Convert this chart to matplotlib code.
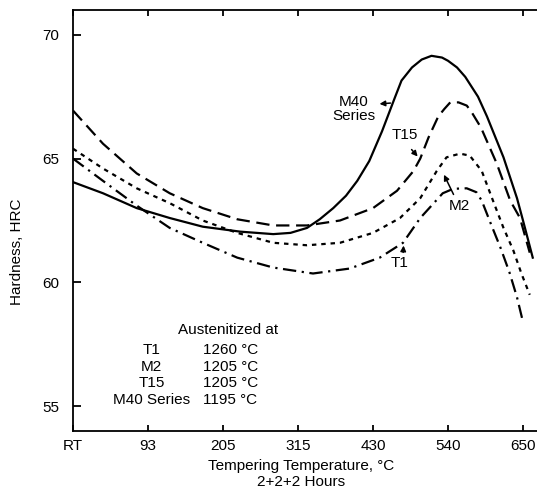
import numpy as np
import matplotlib.pyplot as plt

plt.rcParams['font.family'] = ['Liberation Sans', 'DejaVu Sans']
plt.rcParams['font.size'] = 11

# x axis: evenly spaced tempering steps, labelled in degrees C
tick_pos = [0, 1, 2, 3, 4, 5, 6]
tick_labels = ['RT', '93', '205', '315', '430', '540', '650']

# hardness curves (x in tick steps, HRC)
m40_x = [0.00, 0.40, 0.85, 1.29, 1.73, 2.23, 2.67, 2.90, 3.12, 3.29, 3.47, 3.64, 3.79,
         3.95, 4.12, 4.29, 4.38, 4.52, 4.65, 4.78, 4.92, 5.00, 5.12, 5.23, 5.40, 5.52,
         5.74, 5.92, 6.00, 6.13]
m40_hrc = [64.05, 63.6, 63.0, 62.6, 62.25, 62.05, 61.95, 62.0, 62.2, 62.55, 63.0, 63.5, 64.1,
           64.9, 66.1, 67.45, 68.15, 68.68, 69.0, 69.15, 69.08, 68.95, 68.68, 68.3, 67.5, 66.7,
           65.05, 63.4, 62.5, 61.0]

t15_x = [0.00, 0.40, 0.85, 1.29, 1.73, 2.19, 2.67, 3.12, 3.56, 4.00, 4.32, 4.54,
         4.63, 4.74, 4.87, 4.95, 5.03, 5.14, 5.25, 5.31, 5.44, 5.65, 5.83, 5.96, 6.09]
t15_hrc = [66.94, 65.6, 64.4, 63.6, 63.0, 62.55, 62.3, 62.3, 62.5, 63.0, 63.7, 64.5,
           65.0, 65.85, 66.7, 67.0, 67.27, 67.27, 67.14, 66.9, 66.25, 64.8, 63.3, 62.6, 61.2]

m2_x = [0.00, 0.40, 0.85, 1.29, 1.73, 2.19, 2.67, 3.12, 3.56, 4.00, 4.36, 4.63,
        4.85, 4.98, 5.16, 5.29, 5.45, 5.60, 5.74, 5.87, 5.98, 6.09]
m2_hrc = [65.4, 64.6, 63.8, 63.2, 62.5, 62.0, 61.6, 61.5, 61.6, 62.0, 62.6, 63.4,
          64.5, 65.05, 65.2, 65.12, 64.5, 63.3, 62.2, 61.3, 60.35, 59.5]

t1_x = [0.00, 0.40, 0.85, 1.29, 1.73, 2.19, 2.67, 3.20, 3.69, 4.09, 4.40, 4.63,
        4.93, 5.07, 5.25, 5.38, 5.45, 5.58, 5.70, 5.82, 5.92, 6.00]
t1_hrc = [65.0, 64.1, 63.1, 62.2, 61.6, 61.0, 60.6, 60.36, 60.56, 61.0, 61.6, 62.6,
          63.6, 63.78, 63.8, 63.64, 63.3, 62.3, 61.4, 60.4, 59.4, 58.4]

# austenitizing table
grades = ['T1', 'M2', 'T15', 'M40 Series']
aust_temps = ['1260 °C', '1205 °C', '1205 °C', '1195 °C']

fig = plt.figure(figsize=(5.37, 4.93), dpi=100)
ax = fig.add_axes([73/537, 1 - 431/493, 1 - 73/537, 421/493])

ax.plot(m40_x, m40_hrc, color='black', lw=1.6)
ax.plot(t15_x, t15_hrc, color='black', lw=1.6, linestyle=(0, (6, 3)))
ax.plot(m2_x, m2_hrc, color='black', lw=1.6, linestyle=(0, (2, 2.2)))
ax.plot(t1_x, t1_hrc, color='black', lw=1.6, linestyle=(0, (6, 2.5, 1, 2.5)))

ax.set_xlim(0, 464/75)
ax.set_ylim(54, 71)
ax.set_xticks(tick_pos)
ax.set_xticklabels(tick_labels)
ax.set_yticks([55, 60, 65, 70])

ax.spines['right'].set_visible(False)
for s in ['left', 'bottom', 'top']:
    ax.spines[s].set_linewidth(1.3)

ax.tick_params(axis='y', direction='in', length=6, width=1.3, pad=10, labelsize=11)
ax.tick_params(axis='x', direction='in', length=4, width=1.3, pad=6, labelsize=11,
               top=True)

fig.text(17/537, 1 - 252/493, 'Hardness, HRC', rotation=90,
         ha='center', va='center', fontsize=11)
fig.text(301/537, 1 - 474/493, 'Tempering Temperature, °C\n2+2+2 Hours',
         ha='center', va='center', fontsize=11, linespacing=1.1)

# curve labels with leader arrows
arrow = dict(arrowstyle='-|>', color='black', lw=1.1, mutation_scale=8)
ax.text(3.74, 67.0, 'M40\nSeries', ha='center', va='center', linespacing=1.0)
ax.annotate('', xy=(4.05, 67.2), xytext=(4.27, 67.25), arrowprops=arrow)
ax.text(4.43, 65.97, 'T15', ha='center', va='center')
ax.annotate('', xy=(4.62, 65.0), xytext=(4.49, 65.45), arrowprops=arrow)
ax.text(5.15, 63.1, 'M2', ha='center', va='center')
ax.annotate('', xy=(4.93, 64.45), xytext=(5.09, 63.45), arrowprops=arrow)
ax.text(4.35, 60.77, 'T1', ha='center', va='center')
ax.annotate('', xy=(4.41, 61.6), xytext=(4.40, 61.1), arrowprops=arrow)

# table of austenitizing temperatures
ax.text(2.07, 58.06, 'Austenitized at', ha='center', va='center')
row_y = [57.26, 56.57, 55.93, 55.24]
for g, t, y in zip(grades, aust_temps, row_y):
    ax.text(1.05, y, g, ha='center', va='center')
    ax.text(1.73, y, t, ha='left', va='center')

fig.savefig('out.png', dpi=100)
